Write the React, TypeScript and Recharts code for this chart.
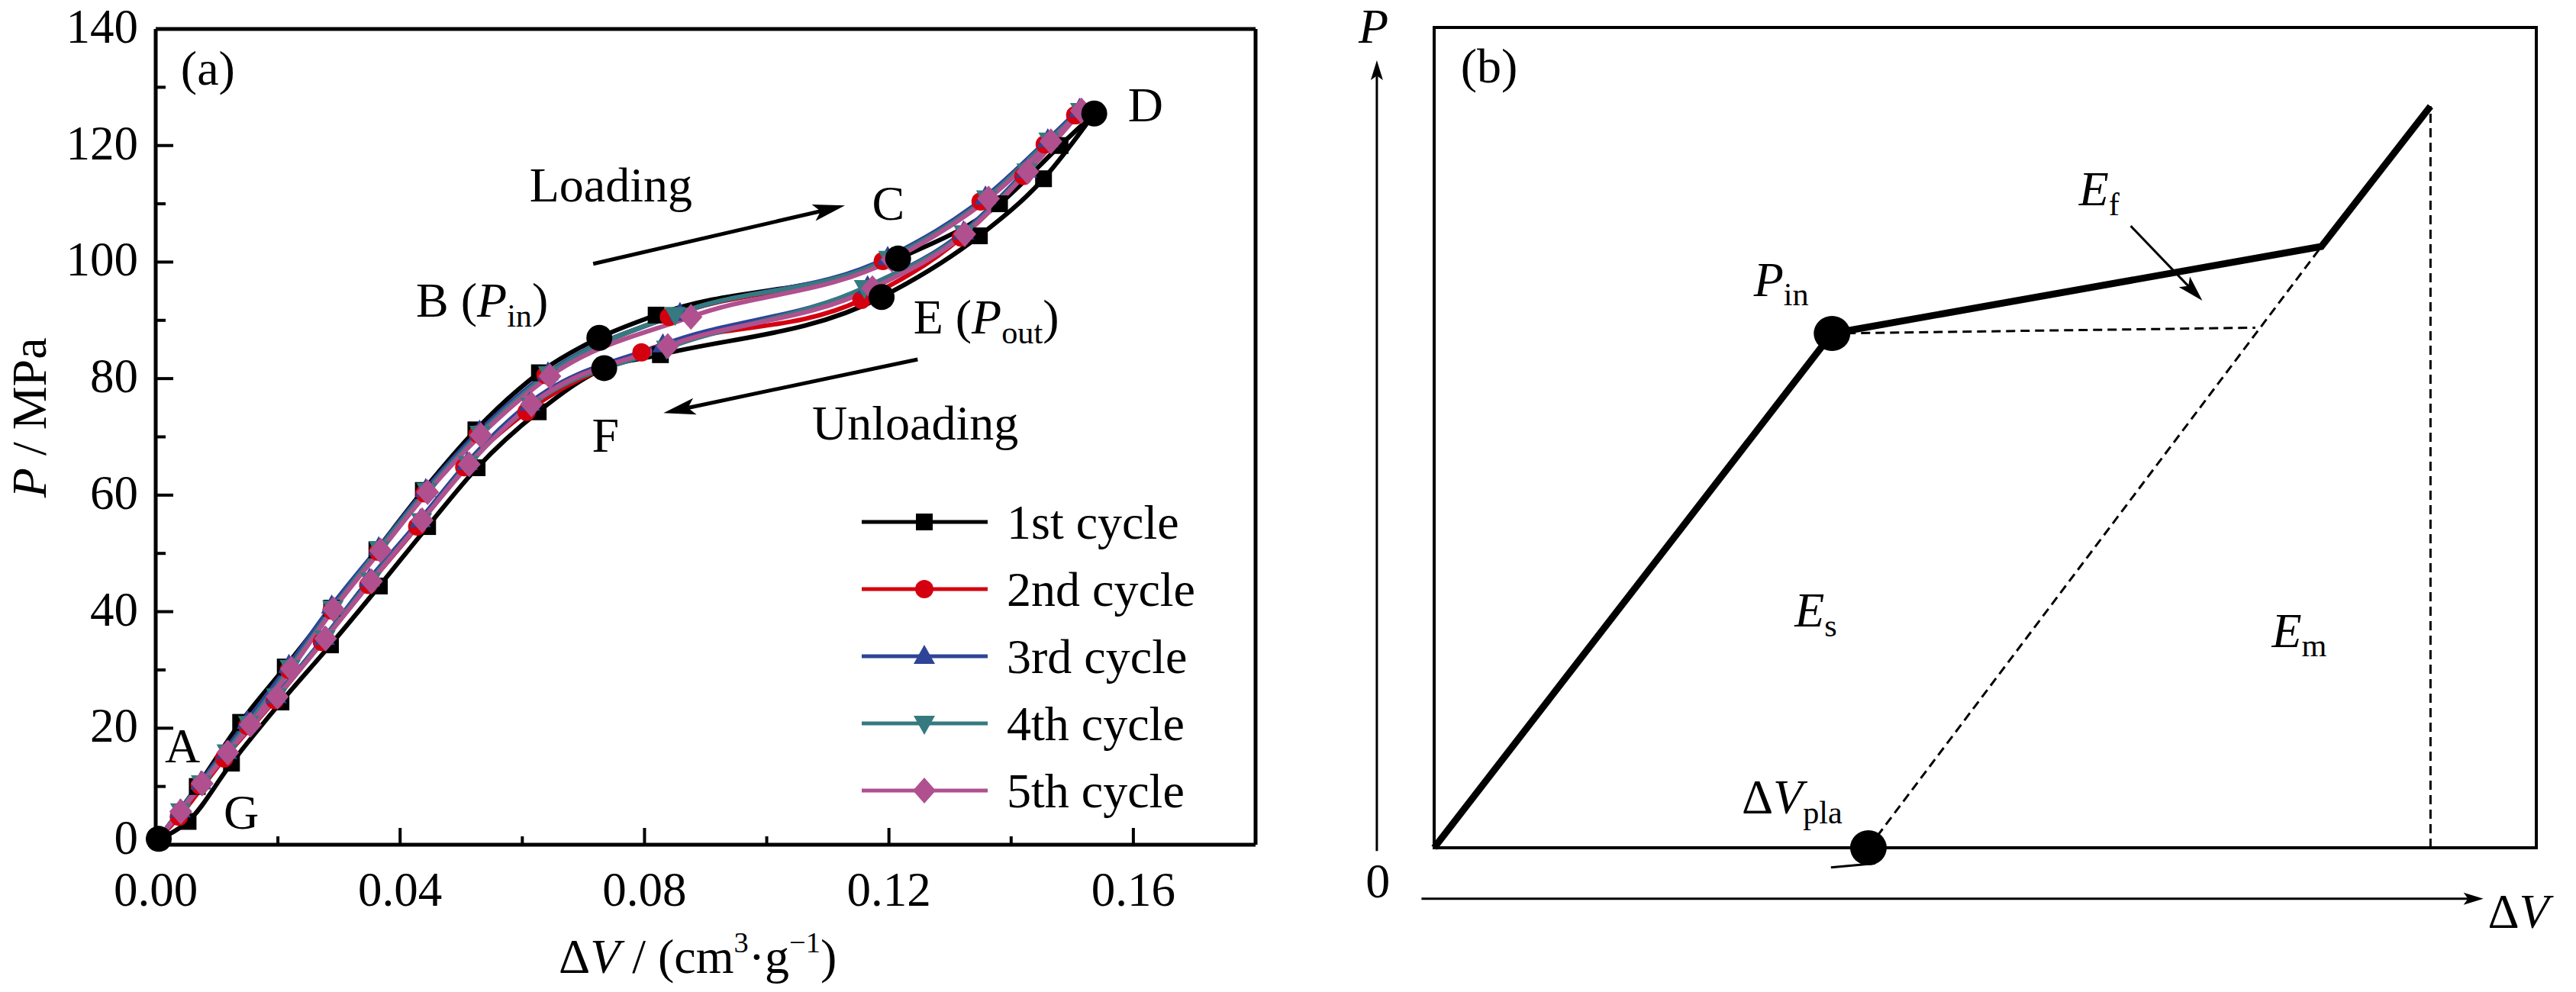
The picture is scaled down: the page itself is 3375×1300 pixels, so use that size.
import React from 'react';
import {
  ComposedChart,
  Line,
  XAxis,
  YAxis,
  ReferenceLine,
  ReferenceDot,
  ReferenceArea,
  Legend,
} from 'recharts';

const FONT = '"Liberation Serif", "Times New Roman", Times, serif';

// ---- panel (a) data: [ΔV (cm3/g), P (MPa)], loading and unloading branch per cycle
const C1_LOAD = [[0.0005, 1], [0.0068, 10], [0.0139, 21], [0.0212, 30.5], [0.0288, 40.6], [0.0362, 50.6], [0.0438, 60.8], [0.0524, 71.2], [0.0628, 81], [0.0726, 87], [0.0819, 90.9], [0.1215, 100.6], [0.1381, 110], [0.148, 120], [0.1536, 125.5]];
const C1_UNLOAD = [[0.0005, 1], [0.0053, 4], [0.0124, 14], [0.0205, 24.5], [0.0286, 34.3], [0.0366, 44.4], [0.0445, 54.6], [0.0526, 64.7], [0.0626, 74.3], [0.0734, 81.8], [0.0826, 84.1], [0.1188, 94], [0.1348, 104.5], [0.1453, 114.3], [0.1536, 125.5]];

const C2_LOAD = [[0.0005, 1], [0.0072, 10.2], [0.015, 20.4], [0.0218, 30], [0.0288, 40.2], [0.0364, 50.3], [0.044, 60.3], [0.0527, 70.5], [0.0638, 80.6], [0.084, 90.6], [0.119, 100.2], [0.135, 110.4], [0.1455, 120.2], [0.1505, 125.2]];
const C2_UNLOAD = [[0.0005, 1], [0.0038, 4.8], [0.0112, 14.8], [0.0195, 24.8], [0.0272, 34.8], [0.0348, 44.6], [0.0428, 54.6], [0.0505, 64.8], [0.0607, 74.3], [0.0795, 84.5], [0.1155, 93.5], [0.1318, 104.2], [0.142, 114.8], [0.1505, 125.2]];

const C3_LOAD = [[0.0005, 1], [0.0074, 10.8], [0.015, 21.2], [0.0218, 30.8], [0.0288, 41], [0.0365, 51], [0.0442, 61], [0.053, 71], [0.0642, 81], [0.0858, 91.2], [0.1198, 100.8], [0.1358, 111.2], [0.146, 121], [0.1512, 126.2]];
const C3_UNLOAD = [[0.0005, 1], [0.004, 6], [0.0116, 16], [0.0197, 25.6], [0.0276, 35.6], [0.035, 45.6], [0.0433, 55.8], [0.051, 65.6], [0.0612, 75.8], [0.083, 85.8], [0.1165, 95.8], [0.1322, 105.2], [0.1425, 115.8], [0.1512, 126.2]];

const C4_LOAD = [[0.0005, 1], [0.0075, 10.6], [0.0152, 20.8], [0.022, 30.4], [0.029, 40.6], [0.0366, 50.8], [0.0444, 60.8], [0.0531, 70.6], [0.0643, 80.8], [0.085, 91], [0.12, 100.6], [0.136, 111], [0.1462, 120.9], [0.1514, 126]];
const C4_UNLOAD = [[0.0005, 1], [0.0041, 5.8], [0.0117, 15.9], [0.0198, 25.5], [0.0277, 35.5], [0.0352, 45.4], [0.0435, 55.6], [0.0512, 65.4], [0.0614, 75.4], [0.0836, 85.2], [0.116, 95.6], [0.1323, 105], [0.1426, 115.6], [0.1514, 126]];

const C5_LOAD = [[0.0005, 1], [0.0076, 10.5], [0.0155, 20.6], [0.0222, 30.2], [0.0291, 40.4], [0.0368, 50.5], [0.0445, 60.5], [0.0532, 70.3], [0.0645, 80.4], [0.0876, 90.6], [0.1205, 100.4], [0.1363, 110.9], [0.1465, 120.7], [0.1515, 126]];
const C5_UNLOAD = [[0.0005, 1], [0.0041, 5.7], [0.0118, 15.8], [0.0199, 25.4], [0.0278, 35.4], [0.0353, 45.2], [0.0436, 55.7], [0.0513, 65.3], [0.0615, 75.6], [0.0838, 85.6], [0.1173, 95.5], [0.1324, 104.8], [0.1427, 115.5], [0.1515, 126]];

// marked points O(G), B, C, D, E, F
const KEY_POINTS = [[0.0005, 1], [0.0726, 87], [0.1215, 100.6], [0.1536, 125.5], [0.1188, 94], [0.0734, 81.8]];

const X_TICKS = [0, 0.02, 0.04, 0.06, 0.08, 0.1, 0.12, 0.14, 0.16];
const Y_TICKS = [0, 10, 20, 30, 40, 50, 60, 70, 80, 90, 100, 110, 120, 130, 140];

// ---- panel (b) schematic, box = 0..100 both ways
const B_SOLID = [[0, 0], [36.1, 62.7], [80.5, 73.3], [90.4, 90.4]];
const B_DASH_H = [[36.1, 62.7], [74.5, 63.4]];
const B_DASH_D = [[39.4, 0], [80.5, 73.3]];
const B_DASH_V = [[90.4, 0], [90.4, 90.4]];
const B_DOTS = [[36.1, 62.7], [39.4, 0]];

const toVP = (a: number[][]) => a.map(([v, p]) => ({ v, p }));
const toXY = (a: number[][]) => a.map(([x, y]) => ({ x, y }));

const CYCLES = [
  { name: '1st cycle', color: '#000000', shape: 'square', load: C1_LOAD, unload: C1_UNLOAD },
  { name: '2nd cycle', color: '#D4000F', shape: 'circle', load: C2_LOAD, unload: C2_UNLOAD },
  { name: '3rd cycle', color: '#2D4497', shape: 'up', load: C3_LOAD, unload: C3_UNLOAD },
  { name: '4th cycle', color: '#357A80', shape: 'down', load: C4_LOAD, unload: C4_UNLOAD },
  { name: '5th cycle', color: '#B0508F', shape: 'diamond', load: C5_LOAD, unload: C5_UNLOAD },
];

const AXIS = { stroke: '#000', strokeWidth: 5 };

function Marker({ cx, cy, shape, color }: any) {
  if (cx == null || cy == null) return null;
  if (shape === 'square') return <rect x={cx - 11} y={cy - 11} width={22} height={22} fill={color} />;
  if (shape === 'circle') return <circle cx={cx} cy={cy} r={12} fill={color} />;
  if (shape === 'up')
    return <polygon points={`${cx},${cy - 15} ${cx + 14},${cy + 10} ${cx - 14},${cy + 10}`} fill={color} />;
  if (shape === 'down')
    return <polygon points={`${cx},${cy + 15} ${cx + 14},${cy - 10} ${cx - 14},${cy - 10}`} fill={color} />;
  return <polygon points={`${cx},${cy - 17} ${cx + 15},${cy} ${cx},${cy + 17} ${cx - 15},${cy}`} fill={color} />;
}

// text with italic / subscript / superscript pieces: [text, flags] i=italic b=sub p=sup
function Rich({ x, y, segs, size = 64, anchor = 'start', rotate }: any) {
  let shift = 0;
  const spans = segs.map(([t, f = ''], i: number) => {
    const sub = f.includes('b');
    const sup = f.includes('p');
    const target = sub ? size * 0.2 : sup ? -size * 0.42 : 0;
    const dy = target - shift;
    shift = target;
    return (
      <tspan key={i} dy={dy} fontStyle={f.includes('i') ? 'italic' : 'normal'} fontSize={sub ? size * 0.66 : sup ? size * 0.6 : size}>
        {t}
      </tspan>
    );
  });
  return (
    <text
      x={x}
      y={y}
      textAnchor={anchor}
      fontFamily={FONT}
      fontSize={size}
      fill="#000"
      transform={rotate ? `rotate(${rotate} ${x} ${y})` : undefined}
    >
      {spans}
    </text>
  );
}

const arrowShape = (len: number, half: number, sw: number) => (p: any) => {
  const { x1, y1, x2, y2 } = p;
  const ang = Math.atan2(y2 - y1, x2 - x1);
  const c = Math.cos(ang);
  const s = Math.sin(ang);
  const bx = x2 - len * c;
  const by = y2 - len * s;
  const nx = x2 - len * 0.78 * c;
  const ny = y2 - len * 0.78 * s;
  const pts = [
    [x2, y2],
    [bx - half * s, by + half * c],
    [nx, ny],
    [bx + half * s, by - half * c],
  ];
  return (
    <g>
      <line x1={x1} y1={y1} x2={nx} y2={ny} stroke="#000" strokeWidth={sw} />
      <polygon points={pts.map((q) => q.join(',')).join(' ')} fill="#000" />
    </g>
  );
};

const XTick = (p: any) => {
  const v = Number(p.payload.value);
  const major = Math.round(v / 0.02) % 2 === 0;
  return (
    <g>
      <line x1={p.x} x2={p.x} y1={p.y} y2={p.y - (major ? 22 : 11)} stroke="#000" strokeWidth={4} />
      {major && (
        <text x={p.x} y={p.y + 80} textAnchor="middle" fontFamily={FONT} fontSize={63} fill="#000">
          {v.toFixed(2)}
        </text>
      )}
    </g>
  );
};

const YTick = (p: any) => {
  const v = Number(p.payload.value);
  const major = Math.round(v / 10) % 2 === 0;
  return (
    <g>
      <line x1={p.x} x2={p.x + (major ? 23 : 13)} y1={p.y} y2={p.y} stroke="#000" strokeWidth={4} />
      {major && (
        <text x={p.x - 23} y={p.y + (v === 0 ? 12 : 18)} textAnchor="end" fontFamily={FONT} fontSize={63} fill="#000">
          {v}
        </text>
      )}
    </g>
  );
};

function LegendBox() {
  return (
    <svg width={480} height={440} style={{ overflow: 'visible' }}>
      {CYCLES.map((c, i) => {
        const cy = 44 + i * 88;
        return (
          <g key={c.name}>
            <line x1={9} x2={174} y1={cy} y2={cy} stroke={c.color} strokeWidth={5} />
            <Marker cx={91} cy={cy} shape={c.shape} color={c.color} />
            <text x={199} y={cy + 22} fontFamily={FONT} fontSize={64} fill="#000">
              {c.name}
            </text>
          </g>
        );
      })}
    </svg>
  );
}

const A_LABELS = [
  { v: 0.0041, p: 130.4, anchor: 'start', segs: [['(a)']] },
  { v: 0.0745, p: 110.4, anchor: 'middle', segs: [['Loading']] },
  { v: 0.1199, p: 107.2, anchor: 'middle', segs: [['C']] },
  { v: 0.162, p: 124.2, anchor: 'middle', segs: [['D']] },
  { v: 0.0426, p: 90.6, anchor: 'start', segs: [['B ('], ['P', 'i'], ['in', 'b'], [')']] },
  { v: 0.124, p: 87.7, anchor: 'start', segs: [['E ('], ['P', 'i'], ['out', 'b'], [')']] },
  { v: 0.0736, p: 67.5, anchor: 'middle', segs: [['F']] },
  { v: 0.1243, p: 69.5, anchor: 'middle', segs: [['Unloading']] },
  { v: 0.0044, p: 14.2, anchor: 'middle', segs: [['A']] },
  { v: 0.014, p: 2.7, anchor: 'middle', segs: [['G']] },
  { v: 0.0887, p: -22, anchor: 'middle', segs: [['Δ'], ['V', 'i'], [' / (cm'], ['3', 'p'], ['·g'], ['−1', 'p'], [')']] },
  { v: -0.018, p: 73.3, anchor: 'middle', rotate: -90, segs: [['P', 'i'], [' / MPa']] },
];

function PanelA() {
  return (
    <ComposedChart width={1700} height={1300} margin={{ top: 38, right: 55, bottom: 0, left: 0 }}>
      <XAxis
        type="number"
        dataKey="v"
        domain={[0, 0.18]}
        ticks={X_TICKS}
        interval={0}
        height={193}
        tickSize={0}
        tickMargin={0}
        tickLine={false}
        axisLine={AXIS}
        tick={XTick}
      />
      <YAxis
        type="number"
        domain={[0, 140]}
        ticks={Y_TICKS}
        interval={0}
        width={204}
        tickSize={0}
        tickMargin={0}
        tickLine={false}
        axisLine={AXIS}
        tick={YTick}
      />
      <ReferenceLine y={140} stroke="#000" strokeWidth={5} />
      <ReferenceLine x={0.18} stroke="#000" strokeWidth={5} />
      {CYCLES.flatMap((c) =>
        [
          { key: 'u', data: c.unload },
          { key: 'l', data: c.load },
        ].map((b) => (
          <Line
            key={c.name + b.key}
            name={c.name}
            data={toVP(b.data)}
            dataKey="p"
            type="monotone"
            stroke={c.color}
            strokeWidth={6}
            legendType={b.key === 'l' ? 'line' : 'none'}
            activeDot={false}
            dot={(p: any) => <Marker key={p.index} cx={p.cx} cy={p.cy} shape={c.shape} color={c.color} />}
            isAnimationActive={false}
          />
        ))
      )}
      <Line
        data={toVP(KEY_POINTS)}
        dataKey="p"
        stroke="none"
        legendType="none"
        activeDot={false}
        dot={(p: any) => <circle key={p.index} cx={p.cx} cy={p.cy} r={17} fill="#000" />}
        isAnimationActive={false}
      />
      <ReferenceLine
        segment={[{ x: 0.0716, y: 99.7 }, { x: 0.1128, y: 109.7 }]}
        shape={arrowShape(42, 11, 5)}
      />
      <ReferenceLine
        segment={[{ x: 0.1247, y: 83.3 }, { x: 0.0831, y: 74.1 }]}
        shape={arrowShape(42, 11, 5)}
      />
      {A_LABELS.map((l, i) => (
        <ReferenceDot
          key={i}
          x={l.v}
          y={l.p}
          r={0}
          ifOverflow="visible"
          shape={(p: any) => <Rich x={p.cx} y={p.cy} segs={l.segs} anchor={l.anchor} rotate={l.rotate} />}
        />
      ))}
      <Legend
        layout="horizontal"
        verticalAlign="middle"
        align="center"
        content={() => <LegendBox />}
        wrapperStyle={{ position: 'absolute', left: 1120, top: 640, width: 480, height: 440 }}
      />
    </ComposedChart>
  );
}

const B_LABELS = [
  { x: 2.4, y: 93.3, anchor: 'start', segs: [['(b)']] },
  { x: -5.5, y: 98.1, anchor: 'middle', segs: [['P', 'i']] },
  { x: -5.1, y: -6.0, anchor: 'middle', segs: [['0']] },
  { x: 95.6, y: -9.8, anchor: 'start', segs: [['Δ'], ['V', 'i']] },
  { x: 29.0, y: 67.3, anchor: 'start', segs: [['P', 'i'], ['in', 'b']] },
  { x: 58.5, y: 78.3, anchor: 'start', segs: [['E', 'i'], ['f', 'b']] },
  { x: 32.7, y: 27.0, anchor: 'start', segs: [['E', 'i'], ['s', 'b']] },
  { x: 76.0, y: 24.5, anchor: 'start', segs: [['E', 'i'], ['m', 'b']] },
  { x: 27.9, y: 4.2, anchor: 'start', segs: [['Δ'], ['V', 'i'], ['pla', 'b']] },
];

function PanelB() {
  return (
    <ComposedChart width={1675} height={1300} margin={{ top: 36, right: 52, bottom: 189, left: 179 }}>
      <XAxis type="number" dataKey="x" domain={[0, 100]} hide height={0} />
      <YAxis type="number" domain={[0, 100]} hide width={0} />
      <ReferenceArea
        x1={0}
        x2={100}
        y1={0}
        y2={100}
        fill="none"
        fillOpacity={0}
        stroke="#000"
        strokeWidth={4}
        ifOverflow="visible"
      />
      {[B_DASH_H, B_DASH_D, B_DASH_V].map((d, i) => (
        <Line
          key={i}
          data={toXY(d)}
          dataKey="y"
          type="linear"
          stroke="#000"
          strokeWidth={3}
          strokeDasharray="12 7"
          dot={false}
          activeDot={false}
          isAnimationActive={false}
        />
      ))}
      <Line
        data={toXY(B_SOLID)}
        dataKey="y"
        type="linear"
        stroke="#000"
        strokeWidth={9}
        strokeLinejoin="miter"
        dot={false}
        activeDot={false}
        isAnimationActive={false}
      />
      <Line
        data={toXY(B_DOTS)}
        dataKey="y"
        stroke="none"
        activeDot={false}
        dot={(p: any) => <ellipse key={p.index} cx={p.cx} cy={p.cy} rx={24} ry={23} fill="#000" />}
        isAnimationActive={false}
      />
      <ReferenceLine
        segment={[{ x: 36.0, y: -2.4 }, { x: 40.0, y: -1.9 }]}
        stroke="#000"
        strokeWidth={3}
        ifOverflow="visible"
      />
      <ReferenceLine
        segment={[{ x: -5.2, y: -0.4 }, { x: -5.2, y: 96.0 }]}
        shape={arrowShape(26, 8, 3)}
        ifOverflow="visible"
      />
      <ReferenceLine
        segment={[{ x: -1.15, y: -6.2 }, { x: 95.2, y: -6.2 }]}
        shape={arrowShape(26, 8, 3)}
        ifOverflow="visible"
      />
      <ReferenceLine
        segment={[{ x: 63.2, y: 75.8 }, { x: 69.7, y: 66.7 }]}
        shape={arrowShape(34, 10, 3)}
        ifOverflow="visible"
      />
      {B_LABELS.map((l, i) => (
        <ReferenceDot
          key={i}
          x={l.x}
          y={l.y}
          r={0}
          ifOverflow="visible"
          shape={(p: any) => <Rich x={p.cx} y={p.cy} segs={l.segs} anchor={l.anchor} />}
        />
      ))}
    </ComposedChart>
  );
}

export default function App() {
  return (
    <div style={{ position: 'absolute', left: 0, top: 0, width: 3375, height: 1300, background: '#fff', fontFamily: FONT }}>
      <div style={{ position: 'absolute', left: 0, top: 0 }}>
        <PanelA />
      </div>
      <div style={{ position: 'absolute', left: 1700, top: 0 }}>
        <PanelB />
      </div>
    </div>
  );
}
